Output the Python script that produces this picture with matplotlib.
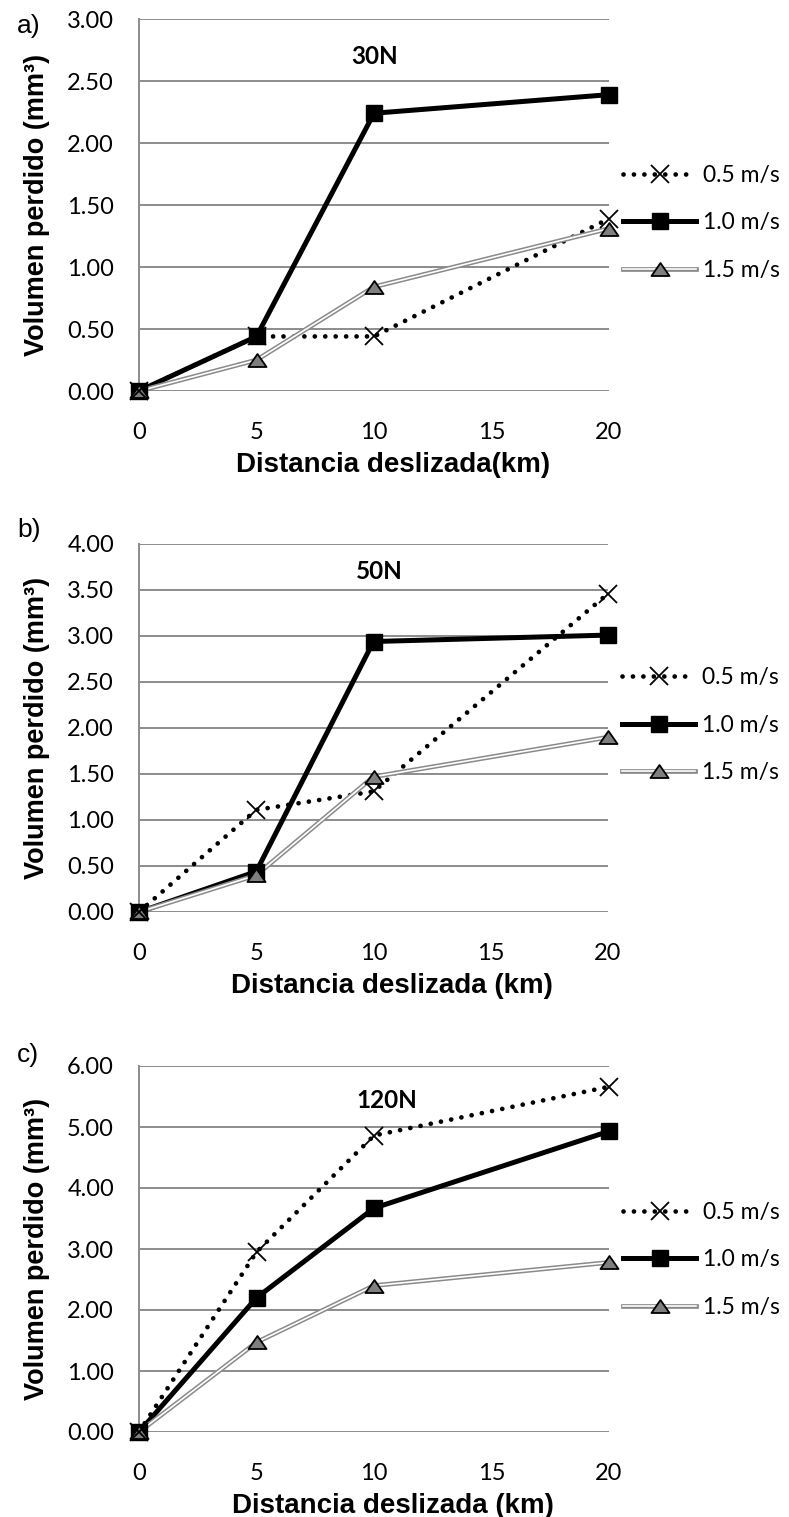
import matplotlib
matplotlib.use("Agg")
import matplotlib.pyplot as plt
import matplotlib.patheffects as pe
from matplotlib.path import Path

# Sliding distance (km)
distance = [0, 5, 10, 20]
x_ticks = [0, 5, 10, 15, 20]
speeds = ["0.5 m/s", "1.0 m/s", "1.5 m/s"]

# Lost volume (mm³) for each load
vol_30N_05 = [0.00, 0.44, 0.44, 1.39]
vol_30N_10 = [0.00, 0.44, 2.24, 2.39]
vol_30N_15 = [0.00, 0.25, 0.84, 1.31]

vol_50N_05 = [0.00, 1.11, 1.31, 3.46]
vol_50N_10 = [0.00, 0.44, 2.94, 3.01]
vol_50N_15 = [0.00, 0.40, 1.47, 1.90]

vol_120N_05 = [0.00, 2.95, 4.86, 5.66]
vol_120N_10 = [0.00, 2.20, 3.67, 4.93]
vol_120N_15 = [0.00, 1.47, 2.40, 2.78]

panel_letters = ["a)", "b)", "c)"]
panel_titles = ["30N", "50N", "120N"]
x_labels = ["Distancia deslizada(km)", "Distancia deslizada (km)", "Distancia deslizada (km)"]
y_label = "Volumen perdido (mm³)"
y_max = [3.0, 4.0, 6.0]
y_step = [0.5, 0.5, 1.0]

panels = [
    (vol_30N_05, vol_30N_10, vol_30N_15),
    (vol_50N_05, vol_50N_10, vol_50N_15),
    (vol_120N_05, vol_120N_10, vol_120N_15),
]

W, H = 789, 1517
fig = plt.figure(figsize=(W / 100, H / 100), dpi=100)

# axes boxes in pixel units: left, top, right, bottom
boxes = [(139, 19, 609, 391), (139, 544, 608, 912), (139, 1066, 609, 1432)]
letter_y = [26, 530, 1055]
title_pos = [(0.502, 0.898), (0.513, 0.924), (0.528, 0.907)]
legend_center = [0.452, 0.508, 0.47]

TICK_FONT = "Lato"
LABEL_FONT = "Liberation Sans"
GRID = "#8c8c8c"

tri = Path([(-1.0, -0.72), (1.0, -0.72), (0.0, 0.72), (-1.0, -0.72)],
           [Path.MOVETO, Path.LINETO, Path.LINETO, Path.CLOSEPOLY])

double_line = [pe.Stroke(linewidth=3.4, foreground="#8a8a8a"),
               pe.Normal()]

for i, (s05, s10, s15) in enumerate(panels):
    l, t, r, b = boxes[i]
    ax = fig.add_axes([l / W, 1 - b / H, (r - l) / W, (b - t) / H])
    ax.set_xlim(0, 20)
    ax.set_ylim(0, y_max[i])
    n = int(round(y_max[i] / y_step[i]))
    yt = [k * y_step[i] for k in range(n + 1)]
    ax.set_yticks(yt)
    ax.set_yticklabels([f"{v:.2f}" for v in yt], fontsize=17, family=TICK_FONT)
    ax.set_xticks(x_ticks)
    ax.set_xticklabels([str(v) for v in x_ticks], fontsize=17, family=TICK_FONT)
    ax.tick_params(length=0, colors="black")
    ax.tick_params(axis="x", pad=22)
    ax.tick_params(axis="y", pad=18)
    for side in ("top", "right", "bottom"):
        ax.spines[side].set_visible(False)
    ax.spines["left"].set_color(GRID)
    ax.spines["left"].set_linewidth(1.4)
    ax.grid(axis="y", color=GRID, linewidth=1.4)
    ax.set_axisbelow(True)

    # series lines
    l05, = ax.plot(distance, s05, color="black", lw=3.4, linestyle=(0, (0.01, 2.2)),
                   dash_capstyle="round", solid_capstyle="round", clip_on=False, zorder=3)
    l10, = ax.plot(distance, s10, color="black", lw=3.6, solid_joinstyle="miter",
                   clip_on=False, zorder=3)
    l15, = ax.plot(distance, s15, color="white", lw=1.2, path_effects=double_line,
                   clip_on=False, zorder=3)
    # series markers
    m05, = ax.plot(distance, s05, linestyle="none", marker="x", ms=13, mew=1.3,
                   color="black", clip_on=False, zorder=5)
    m10, = ax.plot(distance, s10, linestyle="none", marker="s", ms=11.5, mfc="black",
                   mec="black", clip_on=False, zorder=4)
    m15, = ax.plot(distance, s15, linestyle="none", marker=tri, ms=13, mfc="#7f7f7f",
                   mec="black", mew=1.3, clip_on=False, zorder=4)

    ax.text(title_pos[i][0], title_pos[i][1], panel_titles[i], transform=ax.transAxes,
            ha="center", va="center", fontsize=17.5, fontweight="bold", family=TICK_FONT)
    ax.set_xlabel(x_labels[i], fontsize=20, fontweight="bold", family=LABEL_FONT, labelpad=3)
    ax.xaxis.set_label_coords(0.54, -0.2)
    ax.xaxis.label.set_va("center")
    ax.set_ylabel(y_label, fontsize=19.5, fontweight="bold", family=LABEL_FONT, labelpad=12)
    fig.text(17 / W, 1 - letter_y[i] / H, panel_letters[i], fontsize=19, family=LABEL_FONT,
             ha="left", va="center")

    handles = [(l05, m05), (l10, m10), (l15, m15)]
    ax.legend(handles, speeds, loc="center left",
              bbox_to_anchor=(1 + 14 / (r - l), legend_center[i]),
              frameon=False, borderpad=0, borderaxespad=0, handlelength=3.2,
              handletextpad=0.3, labelspacing=1.15,
              prop={"family": TICK_FONT, "size": 16.5})

    # x-axis title sits a fixed distance below the zero line
    ax.xaxis.set_label_coords(0.54, -74 / (b - t))

fig.savefig("out.png", dpi=100)
